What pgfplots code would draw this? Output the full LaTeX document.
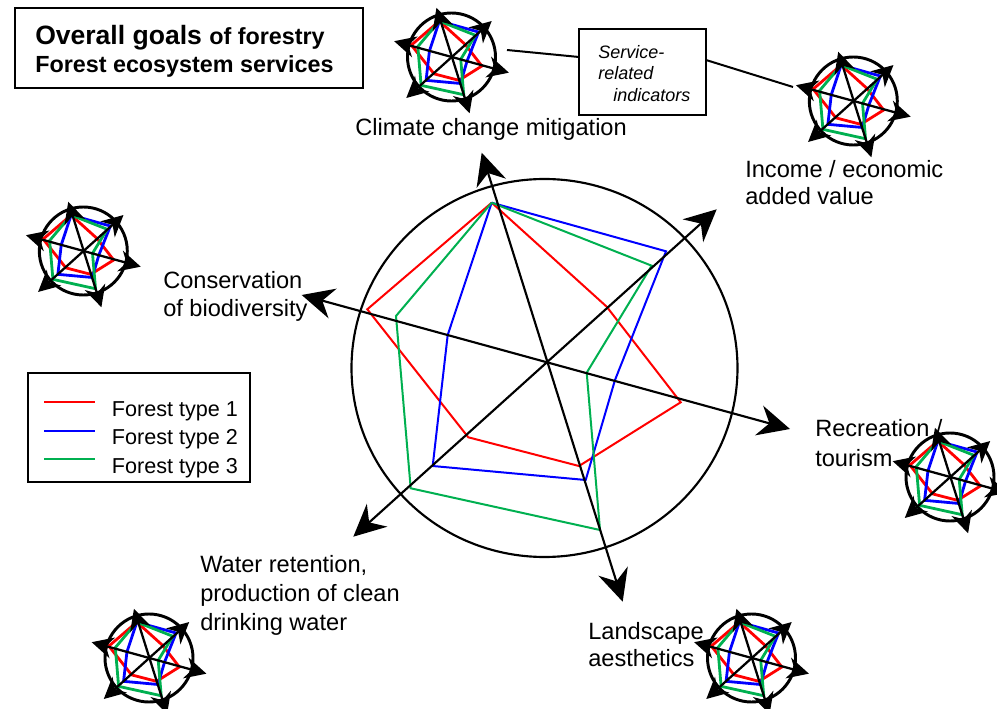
\documentclass[border=0pt]{standalone}
\usepackage{fontspec}
\setmainfont{Liberation Sans}
\usepackage{pgfplots}
\pgfplotsset{compat=1.18}
\usepackage{pgfplotstable}
\usetikzlibrary{arrows.meta}
\definecolor{fgreen}{RGB}{0,176,80}

% polygon vertices (pixel coords): climate, income, recreation, landscape, water, conservation
\pgfplotstableread{
x y
491.7 202.7
606.7 306.7
680.7 402.3
579.0 466.0
468.3 437.3
367.3 309.3
491.7 202.7
}\redtab
\pgfplotstableread{
x y
491.7 202.7
666.0 251.3
615.0 380.0
585.7 480.0
432.7 466.0
447.7 335.0
491.7 202.7
}\bluetab
\pgfplotstableread{
x y
491.7 202.7
651.7 265.7
586.7 372.7
600.0 530.0
410.7 488.3
396.0 316.0
491.7 202.7
}\greentab
\pgfplotstableread{
x y
481.7 152.7
622.7 601.7
}\axClimate
\pgfplotstableread{
x y
716.7 209.3
353.3 536.7
}\axIncome
\pgfplotstableread{
x y
790.0 429.0
301.7 295.0
}\axRecr

\tikzset{
 bigarrow/.style={{Stealth[length=24pt,width=23pt,inset=8pt]}-{Stealth[length=24pt,width=23pt,inset=8pt]}},
 smallarrow/.style={{Stealth[length=16pt,width=16pt,inset=5pt]}-{Stealth[length=16pt,width=16pt,inset=5pt]}},
 lab/.style={anchor=base west, inner sep=0pt, font=\fontsize{17.7}{21}\selectfont},
}

\newcommand{\icon}[2]{%
 \draw[line width=2.2pt] (axis cs:#1,#2) ellipse [x radius=44, y radius=44];
 \addplot[red, line width=2.1pt] table[x expr={#1+0.225*(\thisrow{x}-545.7)}, y expr={#2+0.225*(\thisrow{y}-362.3)}] {\redtab};
 \addplot[blue, line width=2.1pt] table[x expr={#1+0.225*(\thisrow{x}-545.7)}, y expr={#2+0.225*(\thisrow{y}-362.3)}] {\bluetab};
 \addplot[fgreen, line width=2.1pt] table[x expr={#1+0.225*(\thisrow{x}-545.7)}, y expr={#2+0.225*(\thisrow{y}-362.3)}] {\greentab};
 \addplot[black, line width=1.7pt, smallarrow] table[x expr={#1+0.235*(\thisrow{x}-545.7)}, y expr={#2+0.235*(\thisrow{y}-362.3)}] {\axClimate};
 \addplot[black, line width=1.7pt, smallarrow] table[x expr={#1+0.235*(\thisrow{x}-545.7)}, y expr={#2+0.235*(\thisrow{y}-362.3)}] {\axIncome};
 \addplot[black, line width=1.7pt, smallarrow] table[x expr={#1+0.235*(\thisrow{x}-545.7)}, y expr={#2+0.235*(\thisrow{y}-362.3)}] {\axRecr};
}

\begin{document}
\begin{tikzpicture}
\begin{axis}[
 name=ax,
 width=747.75pt, height=531.75pt, scale only axis,
 xmin=0, xmax=997, ymin=0, ymax=709,
 y dir=reverse, hide axis, clip=false, disabledatascaling,
]
% main circle
\draw[line width=1.6pt] (axis cs:544.5,368) ellipse [x radius=193, y radius=189];
% main polygons
\addplot[red, line width=1.5pt] table {\redtab};
\addplot[blue, line width=1.5pt] table {\bluetab};
\addplot[fgreen, line width=1.5pt] table {\greentab};
% main axes
\addplot[black, line width=1.6pt, bigarrow] table {\axClimate};
\addplot[black, line width=1.6pt, bigarrow] table {\axIncome};
\addplot[black, line width=1.6pt, bigarrow] table {\axRecr};

% small icons
\icon{451.5}{57}
\icon{853.3}{101}
\icon{83.3}{251}
\icon{950}{477}
\icon{149}{658}
\icon{751.5}{658}

% title box
\draw[line width=1.5pt] (axis cs:15,8) rectangle (axis cs:363,88);
\node[anchor=base west, inner sep=0pt] at (axis cs:35,45) {\bfseries\fontsize{19.9}{24}\selectfont Overall goals \fontsize{17.5}{21}\selectfont of forestry};
\node[anchor=base west, inner sep=0pt] at (axis cs:35,73) {\bfseries\fontsize{17.5}{21}\selectfont Forest ecosystem services};

% service-related indicators box
\draw[line width=1.5pt] (axis cs:579,29) rectangle (axis cs:706,115);
\addplot[black, line width=1.5pt] coordinates {(507,50) (579,57)};
\addplot[black, line width=1.5pt] coordinates {(706,60) (793,87)};
\node[anchor=base west, inner sep=0pt, font=\itshape\fontsize{13.5}{16}\selectfont] at (axis cs:598,58.5) {Service-};
\node[anchor=base west, inner sep=0pt, font=\itshape\fontsize{13.5}{16}\selectfont] at (axis cs:598,80) {related};
\node[anchor=base west, inner sep=0pt, font=\itshape\fontsize{13.5}{16}\selectfont] at (axis cs:613,101.5) {indicators};

% labels
\node[lab] at (axis cs:355,136) {Climate change mitigation};
\node[lab] at (axis cs:745,178) {Income / economic};
\node[lab] at (axis cs:745,205) {added value};
\node[lab] at (axis cs:163,289) {Conservation};
\node[lab] at (axis cs:163,317) {of biodiversity};
\node[lab] at (axis cs:815,437) {Recreation /};
\node[lab] at (axis cs:815,466) {tourism};
\node[lab] at (axis cs:200,572) {Water retention,};
\node[lab] at (axis cs:200,601) {production of clean};
\node[lab] at (axis cs:200,630) {drinking water};
\node[lab] at (axis cs:588,639) {Landscape};
\node[lab] at (axis cs:588,666) {aesthetics};

% legend
\draw[line width=1.5pt] (axis cs:28,373) rectangle (axis cs:250,482);
\addplot[red, line width=1.5pt] coordinates {(44,401.7) (95,401.7)};
\addplot[blue, line width=1.5pt] coordinates {(44,430.7) (95,430.7)};
\addplot[fgreen, line width=1.5pt] coordinates {(44,459.3) (95,459.3)};
\node[anchor=base west, inner sep=0pt, font=\fontsize{16.2}{19}\selectfont] at (axis cs:111.7,416.7) {Forest type 1};
\node[anchor=base west, inner sep=0pt, font=\fontsize{16.2}{19}\selectfont] at (axis cs:111.7,445) {Forest type 2};
\node[anchor=base west, inner sep=0pt, font=\fontsize{16.2}{19}\selectfont] at (axis cs:111.7,473.3) {Forest type 3};
\end{axis}
\pgfresetboundingbox
\useasboundingbox (ax.south west) rectangle (ax.north east);
\end{tikzpicture}
\end{document}
